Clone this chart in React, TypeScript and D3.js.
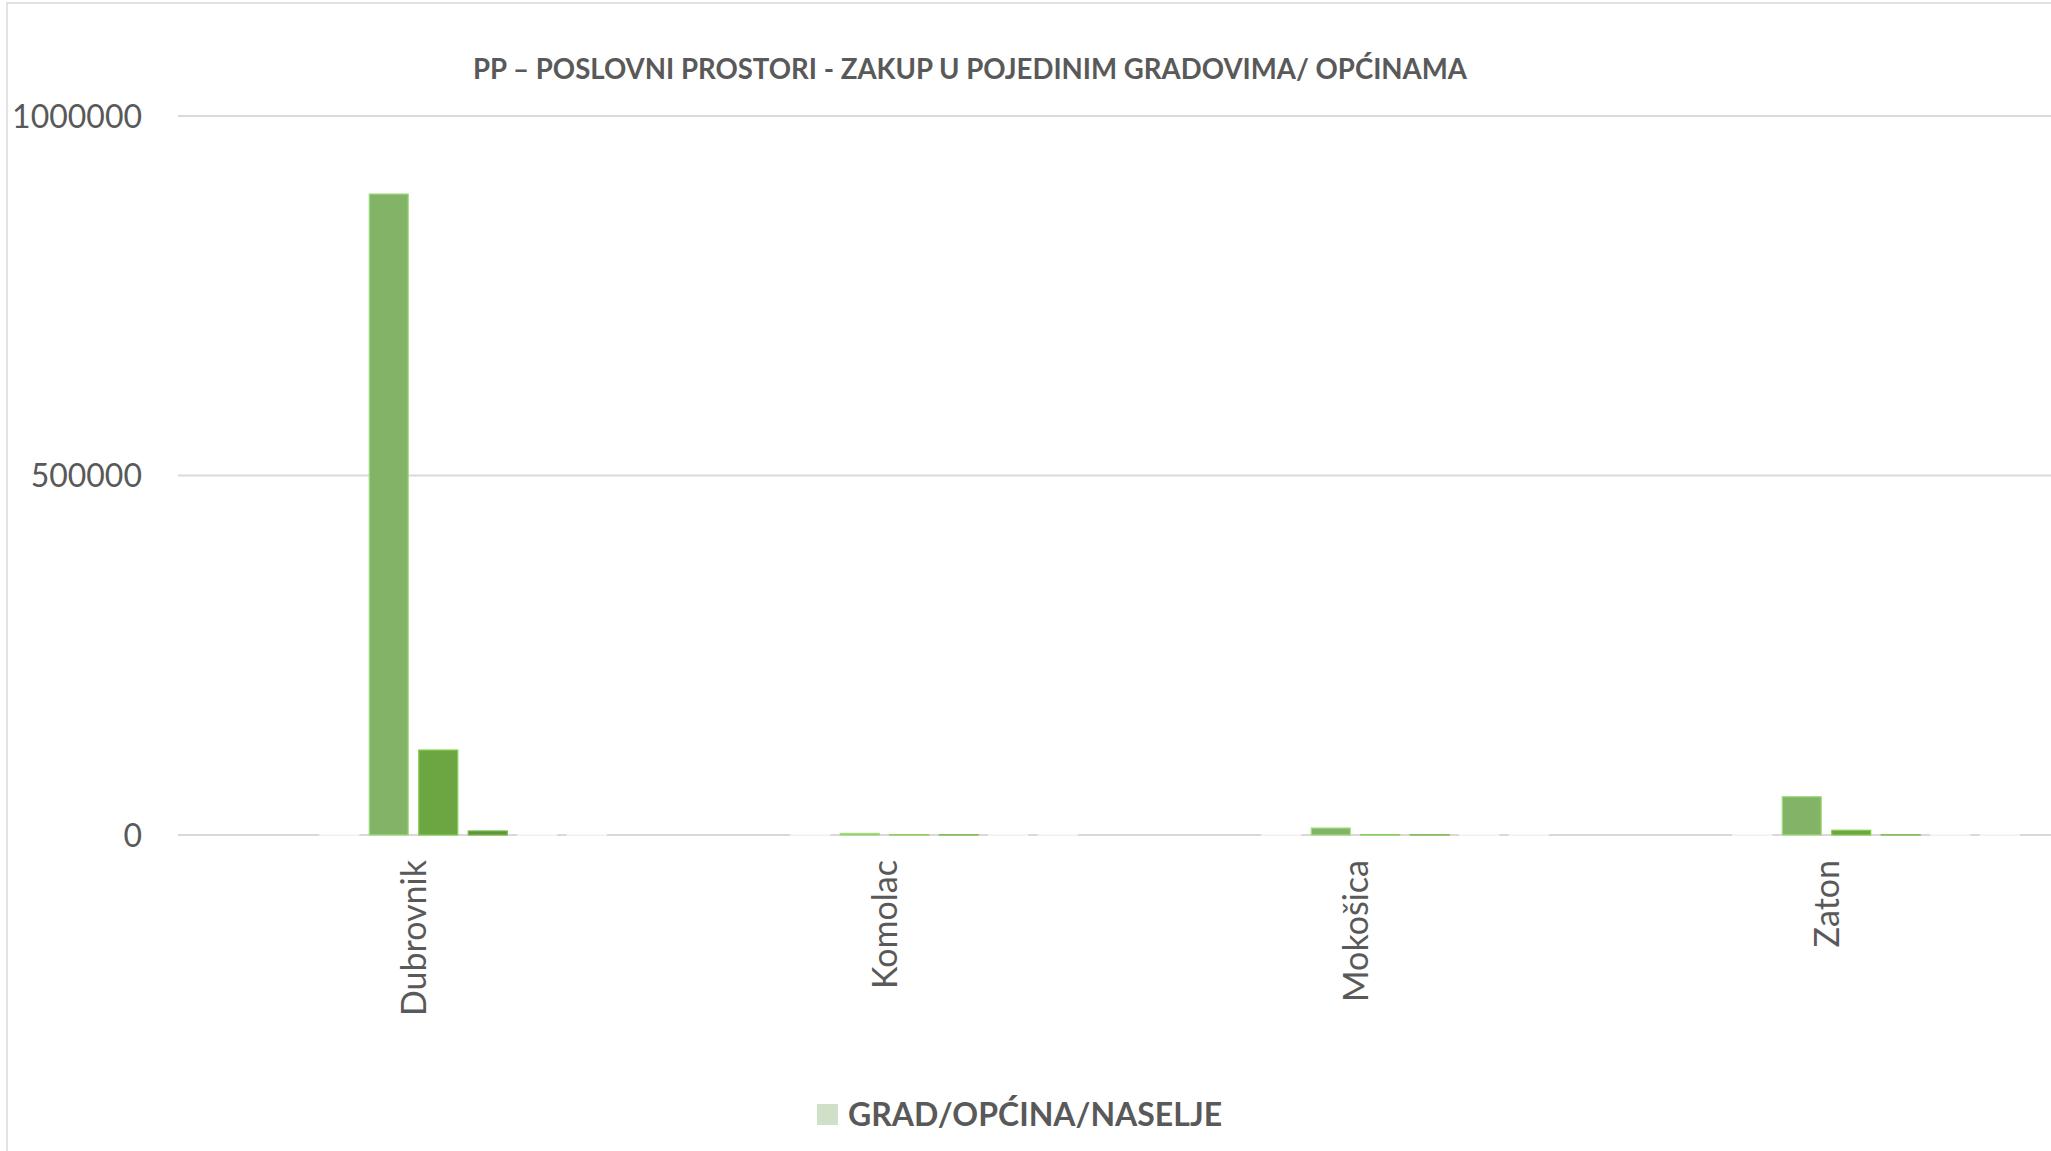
import { useEffect, useRef } from "react";
import * as d3 from "d3";

const title = "PP – POSLOVNI PROSTORI - ZAKUP U POJEDINIM GRADOVIMA/ OPĆINAMA";
const categories = ["Dubrovnik", "Komolac", "Mokošica", "Zaton"];
const yTicks = [0, 500000, 1000000];
const legendLabels = ["GRAD/OPĆINA/NASELJE"];

// eight series per city, the first two are empty
const seriesNames = ["S1", "S2", "GRAD/OPĆINA/NASELJE", "S4", "S5", "S6", "S7", "S8"];
const valuesS1: (number | null)[] = [null, null, null, null];
const valuesS2: (number | null)[] = [null, null, null, null];
const valuesGrad = [300, 300, 300, 300];
const valuesS4 = [891500, 2200, 9700, 53300];
const valuesS5 = [118200, 300, 400, 6600];
const valuesS6 = [5600, 300, 300, 300];
const valuesS7 = [300, 300, 300, 300];
const valuesS8 = [300, 300, 300, 300];
const seriesValues = [valuesS1, valuesS2, valuesGrad, valuesS4, valuesS5, valuesS6, valuesS7, valuesS8];
const seriesColors = ["#d0e0c8", "#d0e0c8", "#d0e0c8", "#82b366", "#6ca641", "#5f953a", "#d2d6cb", "#d2d6cb"];

const W = 2051;
const H = 1151;
const FONT = "Lato, 'Open Sans', sans-serif";

const App = () => {
  const svgRef = useRef<SVGSVGElement>(null);

  useEffect(() => {
    document.body.style.margin = "0";
    const svg = d3.select(svgRef.current);
    svg.selectAll("*").remove();

    const left = 178;
    const step = 471;

    const x0 = d3
      .scaleBand<string>()
      .domain(categories)
      .range([left, left + step * categories.length]);

    const x1 = d3
      .scaleBand<string>()
      .domain(seriesNames)
      .range([0, x0.bandwidth()])
      .paddingInner(0.212)
      .paddingOuter(0.864);

    const y = d3.scaleLinear().domain([0, 1000000]).range([835, 116]);

    // chart border
    svg
      .append("rect")
      .attr("x", 7)
      .attr("y", 3)
      .attr("width", W + 50)
      .attr("height", H + 50)
      .attr("fill", "#ffffff")
      .attr("stroke", "#d9d9d9")
      .attr("stroke-width", 1.5);

    svg
      .append("text")
      .attr("x", 970)
      .attr("y", 79)
      .attr("text-anchor", "middle")
      .style("font-family", FONT)
      .style("font-weight", "bold")
      .style("font-size", "27.6px")
      .style("fill", "#595959")
      .text(title);

    // gridlines + y labels
    const grid = svg.append("g");
    grid
      .selectAll("line")
      .data(yTicks)
      .enter()
      .append("line")
      .attr("x1", left)
      .attr("x2", W)
      .attr("y1", (d) => y(d))
      .attr("y2", (d) => y(d))
      .attr("stroke", "#d9d9d9")
      .attr("stroke-width", 2);

    grid
      .selectAll("text")
      .data(yTicks)
      .enter()
      .append("text")
      .attr("x", 142)
      .attr("y", (d) => y(d))
      .attr("dy", "0.36em")
      .attr("text-anchor", "end")
      .style("font-family", FONT)
      .style("font-size", "32px")
      .style("fill", "#595959")
      .text((d) => String(d));

    // bars
    const groups = svg
      .append("g")
      .selectAll("g")
      .data(categories)
      .enter()
      .append("g")
      .attr("transform", (c) => `translate(${x0(c)},0)`);

    groups
      .selectAll("rect")
      .data((c, ci) =>
        seriesNames
          .map((s, si) => ({ s, si, v: seriesValues[si][ci] }))
          .filter((d) => d.v !== null)
      )
      .enter()
      .append("rect")
      .attr("x", (d) => x1(d.s) as number)
      .attr("width", x1.bandwidth())
      .attr("y", (d) => y(d.v as number))
      .attr("height", (d) => y(0) - y(d.v as number))
      .attr("fill", (d) => seriesColors[d.si])
      .attr("stroke", (d) => d3.color(seriesColors[d.si])!.brighter(0.6).formatHex())
      .attr("stroke-width", 1.2);

    // category labels
    svg
      .append("g")
      .selectAll("text")
      .data(categories)
      .enter()
      .append("text")
      .attr(
        "transform",
        (c) => `translate(${(x0(c) as number) + x0.bandwidth() / 2},860) rotate(-90)`
      )
      .attr("dy", "0.36em")
      .attr("text-anchor", "end")
      .style("font-family", FONT)
      .style("font-size", "34px")
      .style("fill", "#595959")
      .text((c) => c);

    // legend
    const legend = svg.append("g").attr("transform", "translate(817,1104)");
    legend
      .selectAll("rect")
      .data(legendLabels)
      .enter()
      .append("rect")
      .attr("width", 21)
      .attr("height", 21)
      .attr("fill", "#d0e0c8");
    legend
      .selectAll("text")
      .data(legendLabels)
      .enter()
      .append("text")
      .attr("x", 31)
      .attr("y", 22)
      .style("font-family", FONT)
      .style("font-weight", "bold")
      .style("font-size", "32px")
      .style("fill", "#595959")
      .text((d) => d);
  }, []);

  return <svg ref={svgRef} width={W} height={H} style={{ display: "block" }} />;
};

export default App;
